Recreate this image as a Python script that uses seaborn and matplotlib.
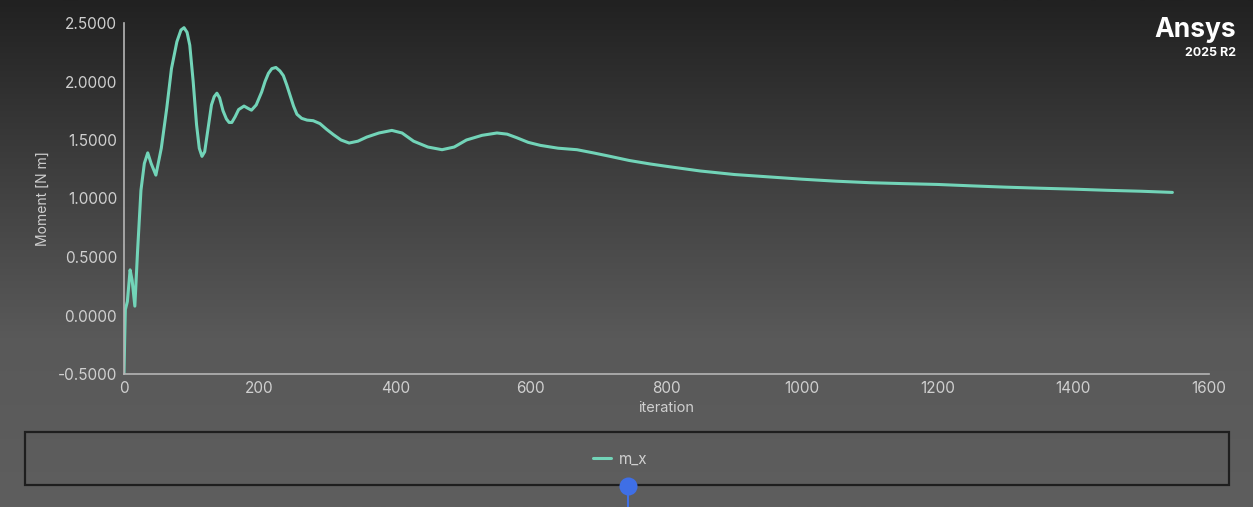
import numpy as np
import pandas as pd
import matplotlib
matplotlib.use('Agg')
import matplotlib.pyplot as plt
import seaborn as sns
from matplotlib.patches import Rectangle
from matplotlib.lines import Line2D
from matplotlib.ticker import MultipleLocator, FormatStrFormatter

# moment history
iteration = [0, 1, 2, 5, 9, 12, 16, 20, 25, 30, 35, 40, 47, 55, 63, 70, 78, 84, 88.5, 93, 97, 102, 107,
             111, 115, 119, 122, 126, 129, 133, 137, 141, 146, 151, 155, 159, 164, 169, 177, 183, 188,
             195, 203, 208, 213, 218, 224, 230, 235, 240, 245, 250, 255, 262, 270, 279, 289, 299, 309,
             320, 332, 345, 358, 376, 395, 410, 427, 448, 469, 487, 505, 528, 550, 565, 579, 596, 614,
             640, 668, 692, 717, 745, 776, 800, 850, 900, 950, 1000, 1050, 1100, 1150, 1200, 1250, 1300,
             1350, 1400, 1450, 1500, 1546]
m_x = [-0.50, -0.20, 0.05, 0.12, 0.39, 0.30, 0.08, 0.55, 1.07, 1.30, 1.39, 1.30, 1.20, 1.43, 1.77,
       2.11, 2.34, 2.44, 2.46, 2.42, 2.31, 2.00, 1.63, 1.43, 1.36, 1.40, 1.52, 1.68, 1.80, 1.87, 1.90,
       1.86, 1.75, 1.68, 1.65, 1.65, 1.70, 1.76, 1.79, 1.77, 1.755, 1.80, 1.91, 2.00, 2.07, 2.11,
       2.12, 2.09, 2.05, 1.97, 1.88, 1.79, 1.72, 1.685, 1.67, 1.665, 1.64, 1.59, 1.545, 1.50, 1.474,
       1.49, 1.525, 1.56, 1.582, 1.56, 1.49, 1.44, 1.417, 1.44, 1.50, 1.54, 1.56, 1.55, 1.52, 1.48,
       1.454, 1.43, 1.417, 1.39, 1.36, 1.325, 1.295, 1.275, 1.235, 1.205, 1.185, 1.165, 1.148, 1.135,
       1.127, 1.12, 1.108, 1.097, 1.088, 1.08, 1.07, 1.062, 1.052]

df = pd.DataFrame({'iteration': iteration, 'm_x': m_x})

sns.set_style('dark')
plt.rcParams['font.family'] = ['Inter', 'DejaVu Sans']

fig = plt.figure(figsize=(12.53, 5.07), dpi=100)

# dark gradient background
bg = fig.add_axes([0, 0, 1, 1], zorder=0)
grad = np.linspace(0, 1, 256).reshape(-1, 1)
cmap = matplotlib.colors.LinearSegmentedColormap.from_list('bg', ['#212121', '#3e3e3e', '#595959', '#5e5e5e'])
bg.imshow(grad, aspect='auto', cmap=cmap, extent=[0, 1, 0, 1], origin='upper')
bg.set_axis_off()

ax = fig.add_axes([124 / 1253, 1 - 374 / 507, 1085 / 1253, 351 / 507], zorder=2)
ax.patch.set_alpha(0)
sns.lineplot(data=df, x='iteration', y='m_x', ax=ax, color='#72d4b8', linewidth=2.2,
             label='m_x', legend=False)

ax.set_xlim(0, 1600)
ax.set_ylim(-0.5, 2.5)
ax.xaxis.set_major_locator(MultipleLocator(200))
ax.xaxis.set_minor_locator(MultipleLocator(100))
ax.yaxis.set_major_locator(MultipleLocator(0.5))
ax.yaxis.set_minor_locator(MultipleLocator(0.25))
ax.yaxis.set_major_formatter(FormatStrFormatter('%.4f'))
ax.grid(False)
for s in ['top', 'right']:
    ax.spines[s].set_visible(False)
for s in ['left', 'bottom']:
    ax.spines[s].set_color('#b5b5b5')
    ax.spines[s].set_linewidth(1.2)
ax.tick_params(which='both', colors='#b5b5b5', labelcolor='#cfcfcf', labelsize=11, direction='out')
ax.tick_params(which='major', length=4, width=1.2, pad=1)
ax.tick_params(which='minor', length=2.5, width=1.2)
ax.set_xlabel('iteration', color='#cfcfcf', fontsize=10.5, labelpad=4)
ax.set_ylabel('Moment [N m]', color='#cfcfcf', fontsize=10, labelpad=6)

# legend panel
fig.patches.append(Rectangle((25 / 1253, 1 - 485 / 507), 1204 / 1253, 53 / 507,
                             transform=fig.transFigure, facecolor='none', edgecolor='#1e1e1e',
                             linewidth=1.6, zorder=3))
handle = Line2D([], [], color='#72d4b8', linewidth=2.2)
fig.legend([handle], ['m_x'], loc='center', bbox_to_anchor=(620 / 1253, 1 - 459 / 507),
           frameon=False, handlelength=1.2, handletextpad=0.5, fontsize=11, labelcolor='#d0d0d0')

# blue slider knob
knob_x, knob_y = 628 / 1253, 1 - 486 / 507
fig.add_artist(Line2D([knob_x, knob_x], [0, knob_y], transform=fig.transFigure,
                      color='#3f6fe6', linewidth=1.5, zorder=4))
fig.add_artist(Line2D([knob_x], [knob_y], transform=fig.transFigure, marker='o', markersize=13,
                      markerfacecolor='#3f6fe6', markeredgecolor='none', linestyle='none', zorder=5))

# logo
fig.text(1236 / 1253, 1 - 30 / 507, 'Ansys', ha='right', va='center', color='white',
         fontsize=19, fontweight='bold')
fig.text(1236 / 1253, 1 - 53 / 507, '2025 R2', ha='right', va='center', color='white',
         fontsize=9, fontweight='bold')

fig.savefig('out.png', dpi=100)
